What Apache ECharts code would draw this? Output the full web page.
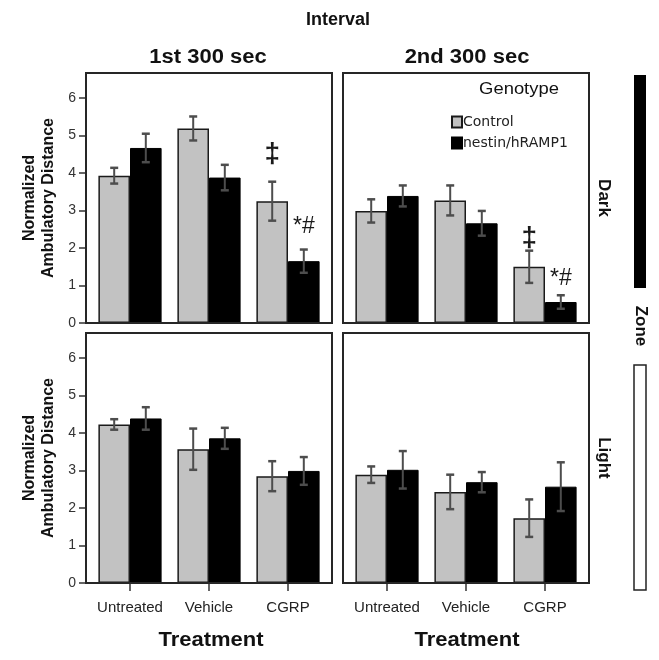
<!DOCTYPE html>
<html><head><meta charset="utf-8">
<script src="https://cdn.jsdelivr.net/npm/echarts@6/dist/echarts.min.js"></script>
<style>html,body{margin:0;padding:0;background:#fff}#c{width:659px;height:660px}</style>
</head><body><div id="c"></div>
<script>
const categories = ['Untreated', 'Vehicle', 'CGRP'];
const yTicks = [0, 1, 2, 3, 4, 5, 6];
const genotypes = ['Control', 'nestin/hRAMP1'];

// Dark zone, 1st 300 sec
const dark1Control = [3.93, 5.19, 3.25];
const dark1ControlErr = [0.21, 0.32, 0.52];
const dark1Nestin = [4.67, 3.88, 1.65];
const dark1NestinErr = [0.38, 0.34, 0.31];
// Dark zone, 2nd 300 sec
const dark2Control = [2.99, 3.27, 1.50];
const dark2ControlErr = [0.31, 0.40, 0.43];
const dark2Nestin = [3.39, 2.66, 0.56];
const dark2NestinErr = [0.28, 0.33, 0.18];
// Light zone, 1st 300 sec
const light1Control = [4.23, 3.57, 2.85];
const light1ControlErr = [0.14, 0.55, 0.40];
const light1Nestin = [4.39, 3.86, 2.99];
const light1NestinErr = [0.30, 0.28, 0.37];
// Light zone, 2nd 300 sec
const light2Control = [2.89, 2.43, 1.73];
const light2ControlErr = [0.22, 0.46, 0.50];
const light2Nestin = [3.02, 2.69, 2.57];
const light2NestinErr = [0.50, 0.27, 0.65];

// significance marks: category index, genotype side (-1 control, 1 nestin), y position, text
const dark1MarkCat = [2, 2];
const dark1MarkSide = [-1, 1];
const dark1MarkY = [4.5, 2.57];
const dark1MarkText = ['‡', '*#'];
const dark2MarkCat = [2, 2];
const dark2MarkSide = [-1, 1];
const dark2MarkY = [2.25, 1.19];
const dark2MarkText = ['‡', '*#'];

const chart = echarts.init(document.getElementById('c'), null, {renderer: 'canvas'});
const FONT = '"Liberation Sans", Arial, sans-serif';
const YMAX = 6.67;
const GRAY = '#c2c2c2';
const ERRC = '#4d4d4d';
const FRAME = '#262626';

const boxes = [
  {x: 86, y: 73}, {x: 343, y: 73}, {x: 86, y: 333}, {x: 343, y: 333}
];
const BW = 246, BH = 250, AXW = 237;

const panels = [
  {c: dark1Control, ce: dark1ControlErr, n: dark1Nestin, ne: dark1NestinErr, mc: dark1MarkCat, ms: dark1MarkSide, my: dark1MarkY, mt: dark1MarkText},
  {c: dark2Control, ce: dark2ControlErr, n: dark2Nestin, ne: dark2NestinErr, mc: dark2MarkCat, ms: dark2MarkSide, my: dark2MarkY, mt: dark2MarkText},
  {c: light1Control, ce: light1ControlErr, n: light1Nestin, ne: light1NestinErr},
  {c: light2Control, ce: light2ControlErr, n: light2Nestin, ne: light2NestinErr}
];

const grids = [], xAxes = [], yAxes = [], series = [];
panels.forEach((p, k) => {
  const b = boxes[k];
  const isLeft = (k % 2 === 0), isBottom = k >= 2;
  grids.push({left: b.x + (BW - AXW) / 2, top: b.y, width: AXW, height: BH, containLabel: false});
  xAxes.push({
    type: 'category', gridIndex: k, data: categories,
    axisLine: {show: false},
    axisTick: {show: isBottom, alignWithLabel: true, length: 8, lineStyle: {color: '#333', width: 1.5}},
    axisLabel: {show: isBottom, interval: 0, fontSize: 15, fontFamily: FONT, color: '#222', margin: 17}
  });
  yAxes.push({
    type: 'value', gridIndex: k, min: 0, max: YMAX, offset: (BW - AXW) / 2,
    splitLine: {show: false},
    axisLine: {show: false},
    axisTick: {show: isLeft, length: 7, customValues: yTicks, lineStyle: {color: '#333', width: 1.5}},
    axisLabel: {show: isLeft, customValues: yTicks, fontSize: 14, fontFamily: FONT, color: '#333', margin: 10}
  });
  series.push({
    type: 'bar', name: genotypes[0], xAxisIndex: k, yAxisIndex: k, data: p.c,
    barGap: '0%', barCategoryGap: '20%',
    itemStyle: {color: GRAY, borderColor: '#1a1a1a', borderWidth: 1.5}, silent: true
  });
  series.push({
    type: 'bar', name: genotypes[1], xAxisIndex: k, yAxisIndex: k, data: p.n,
    barGap: '0%', barCategoryGap: '20%',
    itemStyle: {color: '#000', borderColor: '#000', borderWidth: 1}, silent: true
  });
  const errData = [];
  categories.forEach((_, i) => {
    errData.push([i, p.c[i], p.ce[i], -1]);
    errData.push([i, p.n[i], p.ne[i], 1]);
  });
  series.push({
    type: 'custom', xAxisIndex: k, yAxisIndex: k, z: 5, silent: true,
    encode: {x: 0, y: 1},
    data: errData,
    renderItem: function (params, api) {
      const i = api.value(0), m = api.value(1), e = api.value(2), side = api.value(3);
      const band = api.size([1, 0])[0];
      const top = api.coord([i, m + e]);
      const bot = api.coord([i, m - e]);
      const x = top[0] + side * band * 0.2;
      const st = {stroke: ERRC, lineWidth: 2};
      const cap = {stroke: ERRC, lineWidth: 2.5};
      return {type: 'group', children: [
        {type: 'line', shape: {x1: x, y1: top[1], x2: x, y2: bot[1]}, style: st},
        {type: 'line', shape: {x1: x - 4, y1: top[1], x2: x + 4, y2: top[1]}, style: cap},
        {type: 'line', shape: {x1: x - 4, y1: bot[1], x2: x + 4, y2: bot[1]}, style: cap}
      ]};
    }
  });
  if (p.mc) {
    const mk = p.mc.map((c, j) => [c, p.my[j], p.ms[j]]);
    const texts = p.mt;
    series.push({
      type: 'custom', xAxisIndex: k, yAxisIndex: k, z: 6, silent: true,
      encode: {x: 0, y: 1},
      data: mk,
      renderItem: function (params, api) {
        const c = api.coord([api.value(0), api.value(1)]);
        const band = api.size([1, 0])[0];
        const x = c[0] + api.value(2) * band * 0.2;
        const t = texts[params.dataIndex];
        const f = t === '‡' ? 'bold 28px ' + FONT : '23px ' + FONT;
        return {type: 'text', x: x, y: c[1], style: {
          text: t, fill: '#1a1a1a', font: f, align: 'center', verticalAlign: 'middle'}};
      }
    });
  }
});

const graphics = [];
boxes.forEach(b => {
  graphics.push({type: 'rect', z: 10, silent: true, shape: {x: b.x, y: b.y, width: BW, height: BH},
    style: {fill: 'none', stroke: FRAME, lineWidth: 2}});
});
function txt(text, x, y, size, bold, rot, extra) {
  return Object.assign({type: 'text', x: x, y: y, rotation: rot || 0, z: 10, silent: true,
    style: {text: text, font: (bold ? 'bold ' : '') + size + 'px ' + FONT, fill: '#111',
      align: 'center', verticalAlign: 'middle', lineHeight: size + 3}}, extra || {});
}
graphics.push(txt('Interval', 338, 20, 18, true));
graphics.push(txt('1st 300 sec', 208, 57, 20, true, 0, {scaleX: 1.1}));
graphics.push(txt('2nd 300 sec', 467, 57, 20, true, 0, {scaleX: 1.1}));
graphics.push(txt('Treatment', 211, 640, 20, true, 0, {scaleX: 1.1}));
graphics.push(txt('Treatment', 467, 640, 20, true, 0, {scaleX: 1.1}));
graphics.push(txt('Normalized\nAmbulatory Distance', 39, 198, 16, true, Math.PI / 2));
graphics.push(txt('Normalized\nAmbulatory Distance', 39, 458, 16, true, Math.PI / 2));
graphics.push(txt('Dark', 604, 198, 17, true, -Math.PI / 2));
graphics.push(txt('Light', 604, 458, 17, true, -Math.PI / 2));
graphics.push(txt('Zone', 641, 326, 17, true, -Math.PI / 2));
graphics.push({type: 'rect', silent: true, shape: {x: 634, y: 75, width: 12, height: 213}, style: {fill: '#000'}});
graphics.push({type: 'rect', silent: true, shape: {x: 634, y: 365, width: 12, height: 225}, style: {fill: '#fff', stroke: '#222', lineWidth: 1.5}});
graphics.push(txt('Genotype', 519, 90, 16, false, 0, {scaleX: 1.15}));

chart.setOption({
  animation: false,
  backgroundColor: '#fff',
  grid: grids,
  xAxis: xAxes,
  yAxis: yAxes,
  series: series,
  legend: {
    data: [{name: genotypes[0], icon: 'rect'}, {name: genotypes[1], icon: 'rect'}],
    orient: 'vertical', left: 451, top: 115, itemWidth: 10, itemHeight: 11, itemGap: 7,
    selectedMode: false, padding: 0,
    textStyle: {fontSize: 14, fontFamily: '"DejaVu Sans", sans-serif', color: '#222', padding: [0, 0, 0, -4]}
  },
  graphic: graphics
});
</script></body></html>
